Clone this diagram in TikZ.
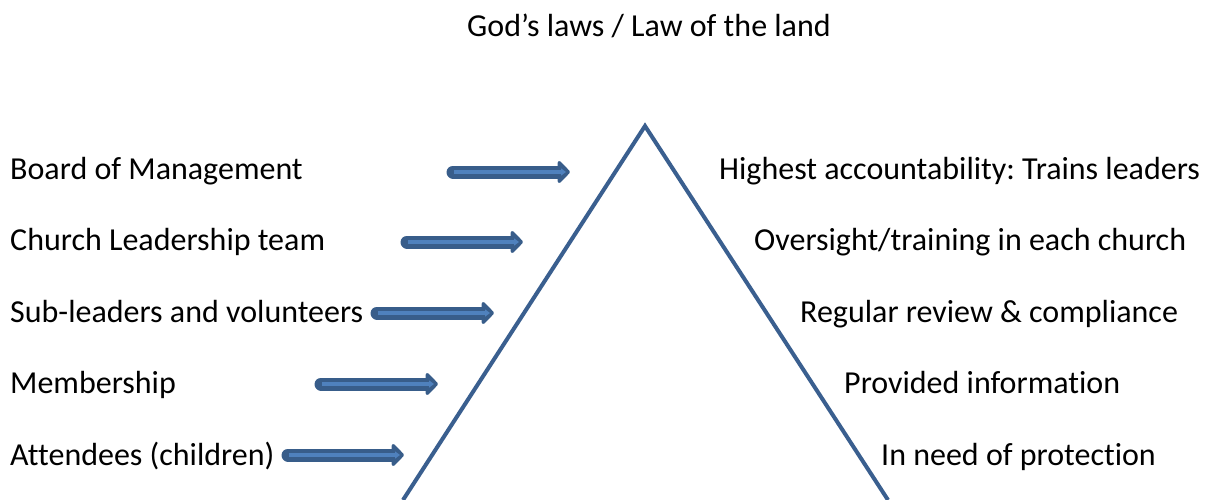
\documentclass[tikz,border=0pt]{standalone}
\usepackage{fontspec}
\setmainfont{Carlito}[Ligatures=NoCommon]
\frenchspacing
\usetikzlibrary{arrows.meta}

\definecolor{pyrblue}{RGB}{58,95,143}
\definecolor{arrdark}{RGB}{56,93,138}
\definecolor{arrlight}{RGB}{79,129,189}

\begin{document}
\begin{tikzpicture}[x=1pt, y=-1pt]
    \tikzstyle{lefttext} = [ anchor=base west, inner sep=0pt, font=\fontsize{32}{38}\selectfont ];
    \tikzstyle{righttext} = [ anchor=base west, inner sep=0pt, font=\fontsize{32}{38}\selectfont ];
    \tikzstyle{blockarr} = [ line width=13pt, draw=arrdark, line cap=round, -{Triangle[length=13pt, width=26pt, round]},
        postaction={draw=arrlight, line width=4pt, line cap=butt, -{Triangle[length=5pt, width=7pt]}, shorten <=1pt, shorten >=4pt} ];
    \tikzstyle{pyramid} = [ draw=pyrblue, line width=4pt, line join=miter ];

    \useasboundingbox (0,0) rectangle (1206,500);

    % title
    \node (nTitle) [lefttext, anchor=base] at (649,37) {God’s laws / Law of the land};

    % pyramid
    \coordinate (cApex) at (645,126);
    \coordinate (cBaseL) at (403,500);
    \coordinate (cBaseR) at (888,500);
    \draw [pyramid] (cBaseL) -- (cApex) -- (cBaseR);

    % levels on the left
    \node (nBoard) [lefttext] at (10,179) {Board of Management};
    \node (nLeaders) [lefttext] at (10,250.5) {Church Leadership team};
    \node (nSubs) [lefttext] at (10,322) {Sub-leaders and volunteers};
    \node (nMembers) [lefttext] at (10,393.5) {Membership};
    \node (nAttend) [lefttext] at (10,465) {Attendees (children)};

    % arrows
    \coordinate (cBoardS) at (453,172);   \coordinate (cBoardE) at (570,172);
    \coordinate (cLeadersS) at (407,242); \coordinate (cLeadersE) at (523,242);
    \coordinate (cSubsS) at (377,313);    \coordinate (cSubsE) at (494,313);
    \coordinate (cMembersS) at (321,384); \coordinate (cMembersE) at (438,384);
    \coordinate (cAttendS) at (288,455);  \coordinate (cAttendE) at (404,455);
    \draw [blockarr] (cBoardS) -- (cBoardE);
    \draw [blockarr] (cLeadersS) -- (cLeadersE);
    \draw [blockarr] (cSubsS) -- (cSubsE);
    \draw [blockarr] (cMembersS) -- (cMembersE);
    \draw [blockarr] (cAttendS) -- (cAttendE);

    % roles on the right
    \node (nHighest) [righttext] at (719,179) {Highest accountability: Trains leaders};
    \node (nOversight) [righttext] at (754,250.5) {Oversight/training in each church};
    \node (nReview) [righttext] at (800,322) {Regular review \& compliance};
    \node (nInfo) [righttext] at (844,393.5) {Provided information};
    \node (nProtect) [righttext] at (881,465) {In need of protection};
\end{tikzpicture}
\end{document}
